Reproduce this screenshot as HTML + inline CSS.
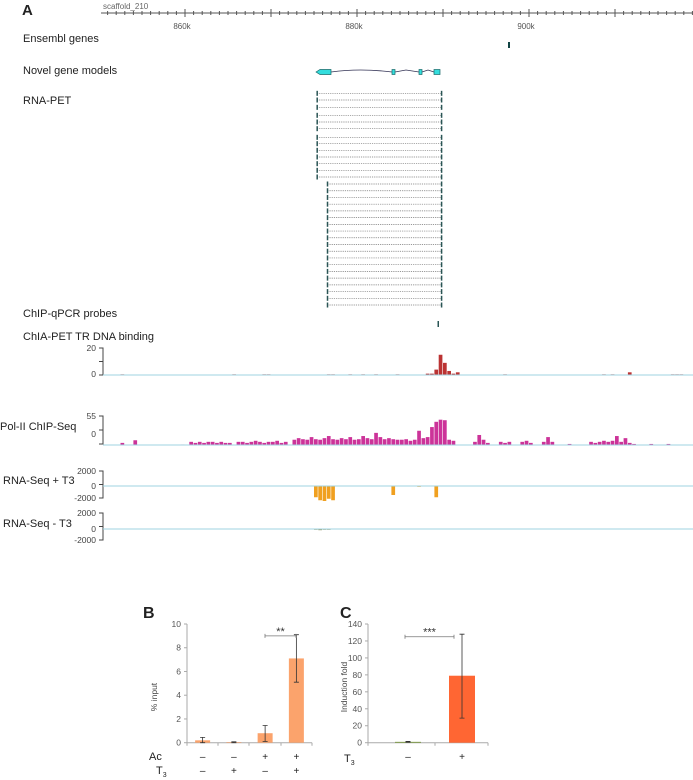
<!DOCTYPE html>
<html><head><meta charset="utf-8"><style>
html,body{margin:0;padding:0;background:#fff;}
svg{display:block;font-family:"Liberation Sans",sans-serif;}
</style></head><body>
<svg id="fig" width="693" height="780" viewBox="0 0 693 780" xmlns="http://www.w3.org/2000/svg">
<text x="22" y="15" font-size="15" font-weight="bold" fill="#222">A</text>
<text x="103" y="9" font-size="8" fill="#666">scaffold_210</text>
<g font-size="11" fill="#222">
<text x="23" y="42">Ensembl genes</text>
<text x="23" y="74">Novel gene models</text>
<text x="23" y="104">RNA-PET</text>
<text x="23" y="317">ChIP-qPCR probes</text>
<text x="23" y="340">ChIA-PET TR DNA binding</text>
<text x="0" y="430">Pol-II ChIP-Seq</text>
<text x="3" y="484">RNA-Seq + T3</text>
<text x="3" y="527">RNA-Seq - T3</text>
</g>
<text x="143" y="618" font-size="16" font-weight="bold" fill="#222">B</text>
<text x="340" y="618" font-size="16" font-weight="bold" fill="#222">C</text>
<g id="g"></g>
</svg>
<script>
// ---- genome browser data (kb) ----
const rulerLabels = [860, 880, 900];
const binStartKb = 850;
const binSizeKb = 0.5;
const chiaValues = [0,0,0,0,0,0.5,0,0,0,0,0,0,0,0,0,0,0,0,0,0,0,0,0,0,0,0,0,0,0,0,0,0.5,0,0,0,0,0,0,0.5,0.5,0,0,0,0,0,0,0,0,0,0,0,0,0,0.5,0.5,0,0,0,0.5,0,0,0.5,0,0,0.5,0,0,0,0,0.5,0,0,0,0,0,0,1,1,4,15,9,3,1,2,0,0,0,0,0,0,0,0,0,0,0.5,0,0,0,0,0,0,0,0,0,0,0,0,0,0,0,0,0,0,0,0,0,0,0.5,0,0.5,0,0,0,2,0,0,0,0,0,0,0,0,0,0.5,0.5,0.5,0,0];
const polValues = [0,0,0,0,0,4,0,0,9,0,0,0,0,0,0,0,0,0,0,1,0,6,4,6,4,6,6,4,6,4,4,0,6,6,4,6,8,6,4,6,6,8,4,6,0,10,13,11,10,15,11,10,13,17,11,10,13,11,15,10,11,17,13,11,23,15,11,13,11,10,10,11,8,10,27,13,15,34,44,48,47,10,8,0,0,0,0,6,19,10,4,0,0,6,4,6,0,0,6,8,4,0,0,6,15,6,0,0,0,2,0,0,0,0,6,4,6,8,6,8,17,6,13,4,2,0,0,0,2,0,0,0,2,0,0,0,0,0];
const rnaPlusValues = [0,0,0,0,0,0,0,0,0,0,0,0,0,0,0,0,0,0,0,0,0,0,0,0,0,0,0,0,0,0,0,0,0,0,0,0,0,0,0,0,0,0,0,0,0,0,0,0,0,0,-1500,-1900,-2000,-1700,-1900,0,0,0,0,0,0,0,0,0,0,0,0,0,-1200,0,0,0,0,0,-100,0,0,0,-1500];
const rnaMinusValues = [0,0,0,0,0,0,0,0,0,0,0,0,0,0,0,0,0,0,0,0,0,0,0,0,0,0,0,0,0,0,0,0,0,0,0,0,0,0,0,0,0,0,0,0,0,0,0,0,0,0,-100,-150,-100,-80];
const genePetGroupA = [875.4, 889.4];
const genePetGroupB = [876.6, 889.4];
const petCountA = 13, petCountB = 19;
// ---- bar chart data ----
const bCategories = ["1","2","3","4"];
const bAc = ["–","–","+","+"];
const bT3 = ["–","+","–","+"];
const bValues = [0.2, 0.05, 0.8, 7.1];
const bErrLow = [0.0, 0.0, 0.1, 5.1];
const bErrHigh = [0.45, 0.08, 1.45, 9.1];
const bTicks = [0,2,4,6,8,10];
const cCategories = ["–","+"];
const cValues = [1, 79];
const cErrLow = [0.5, 29];
const cErrHigh = [1.5, 128];
const cTicks = [0,20,40,60,80,100,120,140];

const NS = "http://www.w3.org/2000/svg";
const G = document.getElementById("g");
function mk(tag, a, parent) {
  const e = document.createElementNS(NS, tag);
  for (const k in a) e.setAttribute(k, a[k]);
  (parent || G).appendChild(e);
  return e;
}
const X = kb => 357 + (kb - 880) * 8.6;

// ruler
let el = mk("line", {x1:101, y1:13, x2:693, y2:13, stroke:"#555", "stroke-width":1});


for (let kb = 851; kb <= 919; kb++) {
  const major = kb % 10 === 0;
  el = mk("line", {x1:X(kb), y1:major?9:11, x2:X(kb), y2:major?17:15, stroke:"#555", "stroke-width":1});
  
  
}
rulerLabels.forEach(kb => {
  el = mk("text", {x:X(kb)-3, y:29, "font-size":8, fill:"#555", "text-anchor":"middle"});
  el.textContent = kb + "k";
  
  
});

// ensembl gene
el = mk("rect", {x:508, y:42, width:2, height:6, fill:"#114444"});



// novel gene model
el = mk("path", {d:"M331 72 Q360 68 392 72 M395 72 L406 70 L419 72 M422 72 L428 70 L434 72", stroke:"#335", fill:"none", "stroke-width":0.8});


el = mk("path", {d:"M316 72 L320 69.5 L331 69.5 L331 74.5 L320 74.5 Z", fill:"#33dddd", stroke:"#1a6a6a", "stroke-width":0.7});


[[392,3],[419,3],[434,6]].forEach(([x,w]) => {
  el = mk("rect", {x:x, y:69.5, width:w, height:5, fill:"#33dddd", stroke:"#1a6a6a", "stroke-width":0.7});
  
  
});

// RNA-PET
const petYsA = [25,45,67,91,111,131,157,176,196,216,236,256,276];
for (let i = 0; i < petCountA + petCountB; i++) {
  const grp = i < petCountA ? genePetGroupA : genePetGroupB;
  const y = i < petCountA ? 85 + petYsA[i]/3 : 85 + (297 + (i-petCountA)*20.17)/3;
  const x1 = X(grp[0]) - 0.5, x2 = X(grp[1]) + 4;
  el = mk("line", {x1:x1, y1:y, x2:x2, y2:y, stroke:"#777", "stroke-width":0.7, "stroke-dasharray":"1.2 1"});
  
  
  el = mk("rect", {x:x1-0.5, y:y-2.5, width:1.5, height:5, fill:"#2a5555"});
  
  
  el = mk("rect", {x:x2-1, y:y-2.5, width:1.5, height:5, fill:"#2a5555"});
  
  
}
// qPCR probe
el = mk("rect", {x:437.5, y:321, width:1.5, height:6, fill:"#2a5555"});



// signal tracks
function track(name, vals, vmin, vmax, yTop, yBot, yZero, color, labels) {
  const sy = v => yZero - v * (yZero - yTop) / vmax;
  let a = mk("path", {d:`M99 ${yTop} H103 V${yBot} H99 M99 ${(yTop+yBot)/2} H103`, stroke:"#444", fill:"none", "stroke-width":1});
  
  
  labels.forEach(([t, y]) => {
    const tx = mk("text", {x:96, y:y, "font-size":8.5, fill:"#444", "text-anchor":"end"});
    tx.textContent = t;
    
    
  });
  vals.forEach((v, i) => {
    if (!v) return;
    const x = X(binStartKb + i * binSizeKb);
    const y0 = sy(0), y1 = sy(v);
    const r = mk("rect", {x:x, y:Math.min(y0,y1), width:binSizeKb*8.6 - 0.6, height:Math.max(0.8, Math.abs(y1-y0)), fill:color});
    
    
  });
  const b = mk("line", {x1:103, y1:yZero, x2:693, y2:yZero, stroke:"#9fd3e0", "stroke-width":1});
  
  
}
track("chia-pet", chiaValues, 0, 20, 348, 375, 375, "#bb3333", [["20",351],["0",377]]);
track("pol2", polValues, 0, 55, 416, 444, 445, "#cc3399", [["55",419],["0",437]]);
track("rnaseq-plus", rnaPlusValues, -2000, 2000, 471, 498, 486, "#f0a020", [["2000",474],["0",489],["-2000",501]]);
track("rnaseq-minus", rnaMinusValues, -2000, 2000, 513, 540, 529, "#999966", [["2000",516],["0",532],["-2000",543]]);

// ---- bar chart helper ----
function barChart(p) {
  const sy = v => p.y0 - v * (p.y0 - p.yTop) / p.vmax;
  let a = mk("line", {x1:p.xL, y1:p.yTop, x2:p.xL, y2:p.y0, stroke:"#aaa"});
  
  
  a = mk("line", {x1:p.xL, y1:p.y0, x2:p.xR, y2:p.y0, stroke:"#aaa"});
  
  
  p.ticks.forEach(t => {
    const l = mk("line", {x1:p.xL-3, y1:sy(t), x2:p.xL, y2:sy(t), stroke:"#aaa"});
    
    
    const tx = mk("text", {x:p.xL-6, y:sy(t)+3, "font-size":8.5, fill:"#555", "text-anchor":"end"});
    tx.textContent = t;
    
    
  });
  p.sep.forEach(x => {
    const l = mk("line", {x1:x, y1:p.y0, x2:x, y2:p.y0+3, stroke:"#aaa"});
    
    
  });
  p.values.forEach((v, i) => {
    const cx = p.cx(i);
    const r = mk("rect", {x:cx - p.bw/2, y:sy(v), width:p.bw, height:p.y0 - sy(v), fill:p.colors[i]});
    
    
    const e = mk("path", {d:`M${cx-2.5} ${sy(p.hi[i])} H${cx+2.5} M${cx} ${sy(p.hi[i])} V${sy(p.lo[i])} M${cx-2.5} ${sy(p.lo[i])} H${cx+2.5}`, stroke:"#333", fill:"none", "stroke-width":0.8});
    
    
  });
  const yb = sy(p.bracket[2]);
  const br = mk("path", {d:`M${p.bracket[0]} ${yb-2} V${yb+2} M${p.bracket[0]} ${yb} H${p.bracket[1]} M${p.bracket[1]} ${yb-2} V${yb+2}`, stroke:"#777", fill:"none", "stroke-width":0.8});
  
  
  const st = mk("text", {x:(p.bracket[0]+p.bracket[1])/2, y:yb-1, "font-size":11, fill:"#333", "text-anchor":"middle"});
  st.textContent = p.stars;
  
  
  const yt = mk("text", {x:p.titleX, y:p.titleY, "font-size":8.5, fill:"#444", "text-anchor":"middle", transform:`rotate(-90 ${p.titleX} ${p.titleY})`});
  yt.textContent = p.title;
  
  
  return sy;
}
barChart({name:"chart-b", xL:187, xR:312, yTop:624, y0:742.7, vmax:10, ticks:bTicks, values:bValues, lo:bErrLow, hi:bErrHigh,
  cx:i => 187 + (i + 0.5) * 31.25, bw:15, colors:bValues.map(()=>"#fba36c"), sep:[187,218,249,281,312],
  bracket:[265, 296, 9.0], stars:"**", title:"% input", titleX:157, titleY:697});
barChart({name:"chart-c", xL:368, xR:488, yTop:624, y0:742.7, vmax:140, ticks:cTicks, values:cValues, lo:cErrLow, hi:cErrHigh,
  cx:i => 381 + (i + 0.5) * 54, bw:26, colors:["#7a9a3a","#ff6633"], sep:[368,435,488],
  bracket:[405, 454, 125], stars:"***", title:"Induction fold", titleX:347, titleY:687});

// condition rows
function cond(txt, x, y, name, size) {
  const t = mk("text", {x:x, y:y, "font-size":size||10, fill:"#222", "text-anchor":"middle"});
  t.textContent = txt;
  
  
}
bAc.forEach((s, i) => cond(s, 187 + (i + 0.5) * 31.25, 760, 'chart-b-ac-condition'));
bT3.forEach((s, i) => cond(s, 187 + (i + 0.5) * 31.25, 774, 'chart-b-t3-condition'));
cCategories.forEach((s, i) => cond(s, 381 + (i + 0.5) * 54, 760, 'chart-c-t3-condition'));
let t = mk("text", {x:149, y:760, "font-size":11, fill:"#222"});
t.textContent = "Ac";


t = mk("text", {x:156, y:774, "font-size":11, fill:"#222"});
t.innerHTML = 'T<tspan font-size="7" dy="3">3</tspan>';


t = mk("text", {x:344, y:762, "font-size":11, fill:"#222"});
t.innerHTML = 'T<tspan font-size="7" dy="3">3</tspan>';


</script>
</body></html>
